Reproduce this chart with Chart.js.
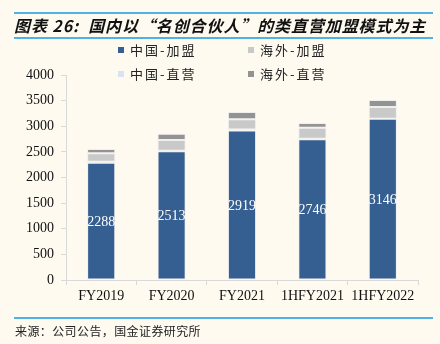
<!DOCTYPE html>
<html><head><meta charset="utf-8">
<script src="https://cdn.jsdelivr.net/npm/chart.js@4/dist/chart.umd.min.js"></script>
<style>
html,body{margin:0;padding:0;background:#fefaf0;}
#wrap{position:relative;width:440px;height:344px;overflow:hidden;background:#fefaf0;}
#c{position:absolute;left:0;top:0;}
#title{position:absolute;left:14px;top:12px;width:419px;height:23px;border-top:2px solid #4cb2e8;border-bottom:2px solid #4cb2e8;
 font-family:"Noto Sans CJK SC";font-weight:bold;font-style:italic;font-size:16px;line-height:23px;color:#111;white-space:nowrap;letter-spacing:0.9px;}
#legend{position:absolute;left:0;top:0;width:440px;height:90px;font-family:"Noto Sans CJK SC";font-size:13px;color:#222;}
.li{position:absolute;white-space:nowrap;line-height:16px;letter-spacing:2px;}
.li span.b{position:absolute;left:0;top:5px;width:6px;height:6px;}
.li span.t{position:absolute;left:12px;top:0;}
#srcline{position:absolute;left:14px;top:317px;width:419px;height:0;border-top:2px solid #4cb2e8;}
#src{position:absolute;left:15px;top:323px;font-family:"Noto Sans CJK SC";font-size:12px;line-height:16px;color:#222;white-space:nowrap;letter-spacing:0.4px;}
</style></head>
<body>
<div id="wrap">
<canvas id="c" width="440" height="344"></canvas>
<div id="title">图表 26:&nbsp; 国内以“名创合伙人”的类直营加盟模式为主</div>
<div id="legend"></div>
<div id="srcline"></div>
<div id="src">来源：公司公告，国金证券研究所</div>
</div>
<script>
const categories = ["FY2019", "FY2020", "FY2021", "1HFY2021", "1HFY2022"];
const chinaFranchise = [2288, 2513, 2919, 2746, 3146];
const chinaDirect = [20, 10, 20, 10, 2];
const overseasFranchise = [164, 209, 196, 215, 229];
const overseasDirect = [82, 123, 142, 91, 136];
const yTicks = [0, 500, 1000, 1500, 2000, 2500, 3000, 3500, 4000];

const series = [
  {label: "中国-加盟", data: chinaFranchise, color: "#365f91"},
  {label: "中国-直营", data: chinaDirect, color: "#dae3f3"},
  {label: "海外-加盟", data: overseasFranchise, color: "#c9c9c9"},
  {label: "海外-直营", data: overseasDirect, color: "#939393"}
];

// HTML legend (two columns, as in the reference)
const legendPos = [
  {i: 0, x: 118, y: 42},
  {i: 2, x: 248, y: 42},
  {i: 1, x: 118, y: 66},
  {i: 3, x: 248, y: 66}
];
const lg = document.getElementById('legend');
legendPos.forEach(p => {
  const s = series[p.i];
  const d = document.createElement('div');
  d.className = 'li';
  d.style.left = p.x + 'px';
  d.style.top = p.y + 'px';
  d.innerHTML = '<span class="b" style="background:' + s.color + '"></span><span class="t">' + s.label + '</span>';
  lg.appendChild(d);
});

const segLabels = {
  id: 'segLabels',
  afterDatasetsDraw(chart) {
    const meta = chart.getDatasetMeta(0);
    const ctx = chart.ctx;
    ctx.save();
    ctx.font = '14px "Liberation Serif"';
    ctx.fillStyle = '#ffffff';
    ctx.textAlign = 'center';
    ctx.textBaseline = 'middle';
    meta.data.forEach((el, i) => {
      ctx.fillText(String(chinaFranchise[i]), el.x, (el.y + el.base) / 2 + 1);
    });
    ctx.restore();
  }
};

new Chart(document.getElementById('c'), {
  type: 'bar',
  data: {
    labels: categories,
    datasets: series.map(s => ({
      label: s.label,
      data: s.data,
      backgroundColor: s.color,
      borderColor: 'rgba(225,230,240,0.55)',
      borderWidth: 1,
      borderSkipped: false,
      barPercentage: 0.4,
      categoryPercentage: 1.0
    }))
  },
  options: {
    responsive: false,
    animation: false,
    layout: {padding: {top: 75, right: 22, left: 0, bottom: 0}},
    plugins: {legend: {display: false}, tooltip: {enabled: false}, title: {display: false}},
    scales: {
      x: {
        stacked: true,
        offset: true,
        grid: {display: true, drawOnChartArea: false, drawTicks: true, tickLength: 5, color: '#d9d9d9', offset: true},
        border: {color: '#d9d9d9', width: 1},
        ticks: {color: '#111', font: {family: 'Liberation Serif', size: 14}, padding: 3, maxRotation: 0, autoSkip: false},
        afterFit(scale) { scale.height = 64; }
      },
      y: {
        stacked: true,
        min: 0,
        max: 4000,
        afterBuildTicks(scale) { scale.ticks = yTicks.map(v => ({value: v})); },
        grid: {display: true, drawOnChartArea: false, drawTicks: true, tickLength: 5, color: '#d9d9d9'},
        border: {color: '#d9d9d9', width: 1},
        ticks: {color: '#111', font: {family: 'Liberation Serif', size: 14}, padding: 7, callback: (v) => String(v)},
        afterFit(scale) { scale.width = 66; }
      }
    }
  },
  plugins: [segLabels]
});
</script>
</body></html>
